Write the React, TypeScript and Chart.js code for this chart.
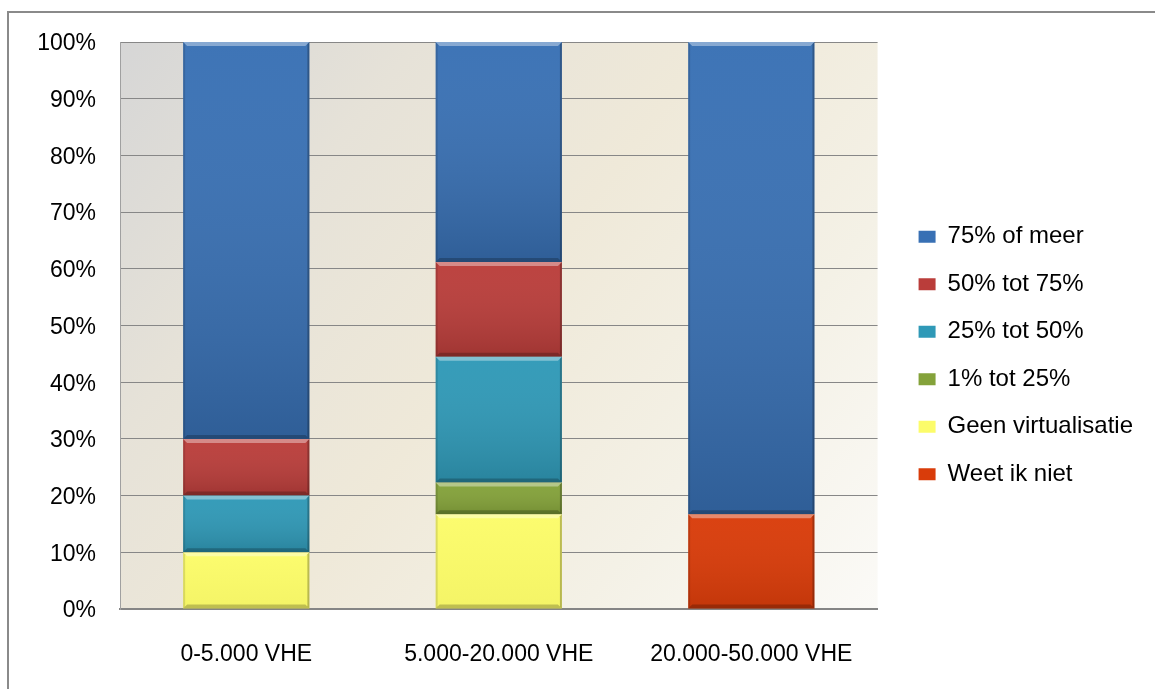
import React, { useEffect, useRef } from "react";
import { Chart, registerables } from "chart.js";

Chart.register(...registerables);

const categories = ["0-5.000 VHE", "5.000-20.000 VHE", "20.000-50.000 VHE"];
const weetIkNiet = [0, 0, 16.7];
const geenVirtualisatie = [10, 16.7, 0];
const tot25 = [0, 5.6, 0];
const tot50 = [10, 22.2, 0];
const tot75 = [10, 16.7, 0];
const ofMeer = [70, 38.8, 83.3];
const yTicks = [0, 10, 20, 30, 40, 50, 60, 70, 80, 90, 100];

const FONT = "'Liberation Sans', Arial, sans-serif";
const LEGEND_GAP = 17.5;
// bottom darkening per dataset (same order as datasets)
const SHADE = [0.1, 0.03, 0.12, 0.14, 0.14, 0.16];

const bgPlugin = {
  id: "plotBg",
  beforeDraw(chart: any) {
    const { ctx, chartArea: a } = chart;
    const g = ctx.createLinearGradient(a.left, a.top, a.right, a.bottom);
    g.addColorStop(0, "#d6d6d6");
    g.addColorStop(0.25, "#e6e2d8");
    g.addColorStop(0.5, "#efe9d9");
    g.addColorStop(0.75, "#f4f1e6");
    g.addColorStop(1, "#fbfaf7");
    ctx.save();
    ctx.fillStyle = g;
    ctx.fillRect(a.left, a.top, a.right - a.left, a.bottom - a.top);
    ctx.restore();
  },
};

const legendGapPlugin = {
  id: "legendGap",
  afterInit(chart: any) {
    const lg = chart.legend;
    if (!lg || lg.__gap) return;
    lg.__gap = true;
    const fit = lg.fit.bind(lg);
    lg.fit = function () {
      fit();
      this.width += LEGEND_GAP;
    };
    const draw = lg.draw.bind(lg);
    lg.draw = function () {
      this.left += LEGEND_GAP;
      draw();
      this.left -= LEGEND_GAP;
    };
  },
};

const bevelPlugin = {
  id: "bevel",
  afterDatasetsDraw(chart: any) {
    const ctx = chart.ctx;
    chart.data.datasets.forEach((_: any, di: number) => {
      const meta = chart.getDatasetMeta(di);
      meta.data.forEach((el: any) => {
        const p = el.getProps(["x", "y", "base", "width"], true);
        const h = Math.abs(p.base - p.y);
        if (h < 0.5) return;
        const l = p.x - p.width / 2;
        const r = p.x + p.width / 2;
        const t = Math.min(p.y, p.base);
        const b = t + h;
        ctx.save();
        const g = ctx.createLinearGradient(0, t, 0, b);
        g.addColorStop(0, "rgba(255,255,255,0.03)");
        g.addColorStop(1, `rgba(0,0,0,${SHADE[di]})`);
        ctx.fillStyle = g;
        ctx.fillRect(l, t, r - l, h);
        const e = Math.min(4, h / 3);
        ctx.fillStyle = "rgba(255,255,255,0.38)";
        ctx.beginPath();
        ctx.moveTo(l, t);
        ctx.lineTo(r, t);
        ctx.lineTo(r - e, t + e);
        ctx.lineTo(l + e, t + e);
        ctx.closePath();
        ctx.fill();
        ctx.fillStyle = "rgba(0,0,0,0.22)";
        ctx.beginPath();
        ctx.moveTo(l, b);
        ctx.lineTo(r, b);
        ctx.lineTo(r - e, b - e);
        ctx.lineTo(l + e, b - e);
        ctx.closePath();
        ctx.fill();
        ctx.fillStyle = "rgba(0,0,0,0.25)";
        ctx.beginPath();
        ctx.moveTo(r, t);
        ctx.lineTo(r, b);
        ctx.lineTo(r - 2, b - 2);
        ctx.lineTo(r - 2, t + 2);
        ctx.closePath();
        ctx.fill();
        ctx.fillStyle = "rgba(0,0,0,0.12)";
        ctx.beginPath();
        ctx.moveTo(l, t);
        ctx.lineTo(l, b);
        ctx.lineTo(l + 2, b - 2);
        ctx.lineTo(l + 2, t + 2);
        ctx.closePath();
        ctx.fill();
        ctx.restore();
      });
    });
  },
};

export default function App() {
  const ref = useRef<HTMLCanvasElement | null>(null);
  useEffect(() => {
    if (!ref.current) return;
    const mk = (label: string, data: number[], color: string, border: string) => ({
      label,
      data,
      backgroundColor: color,
      borderColor: border,
      borderWidth: 0,
      categoryPercentage: 1,
      barPercentage: 0.5,
    });
    const chart = new Chart(ref.current, {
      type: "bar",
      data: {
        labels: categories,
        datasets: [
          mk("Weet ik niet", weetIkNiet, "#d93c0a", "#9c2c08"),
          mk("Geen virtualisatie", geenVirtualisatie, "#fcfc6a", "#b0b040"),
          mk("1% tot 25%", tot25, "#84a23a", "#5c7228"),
          mk("25% tot 50%", tot50, "#2f99b7", "#206a80"),
          mk("50% tot 75%", tot75, "#ba3d3a", "#822a28"),
          mk("75% of meer", ofMeer, "#3870b4", "#244a7c"),
        ],
      },
      options: {
        animation: false,
        responsive: false,
        layout: { padding: { top: 29, left: 0, right: 0, bottom: 44 } },
        plugins: {
          legend: {
            position: "right",
            reverse: true,
            labels: {
              font: { family: FONT, size: 24 },
              color: "#000",
              boxWidth: 17,
              boxHeight: 12,
              padding: 23.5,
            },
          },
          tooltip: { enabled: false },
          title: { display: false },
        },
        scales: {
          x: {
            stacked: true,
            grid: { display: false, drawTicks: false },
            border: { display: true, color: "#858585", width: 2 },
            ticks: {
              font: { family: FONT, size: 23 },
              color: "#000",
              padding: 32,
            },
            afterFit(s: any) {
              s.height = 60;
            },
          },
          y: {
            stacked: true,
            min: 0,
            max: 100,
            afterBuildTicks(s: any) {
              s.ticks = yTicks.map((v) => ({ value: v }));
            },
            grid: { color: "#878787", lineWidth: 1, drawTicks: false },
            border: { display: true, color: "#a0a0a0", width: 1 },
            ticks: {
              font: { family: FONT, size: 23 },
              color: "#000",
              padding: 24,
              labelOffset: 2,
              callback: (v: any) => v + "%",
            },
            afterFit(s: any) {
              s.width = 111;
              s.paddingTop = 0;
              s.paddingBottom = 0;
            },
          },
        },
      },
      plugins: [bgPlugin, bevelPlugin, legendGapPlugin],
    } as any);
    return () => chart.destroy();
  }, []);

  return (
    <div
      style={{
        position: "fixed",
        left: 0,
        top: 0,
        width: 1155,
        height: 689,
        overflow: "hidden",
        background: "#fff",
      }}
    >
      <div
        style={{
          position: "absolute",
          left: 7,
          top: 11,
          width: 1200,
          height: 720,
          borderTop: "2px solid #8a8a8a",
          borderLeft: "2px solid #8a8a8a",
        }}
      />
      <canvas
        ref={ref}
        width={1134}
        height={700}
        style={{ position: "absolute", left: 9, top: 13, width: 1134, height: 700 }}
      />
    </div>
  );
}
